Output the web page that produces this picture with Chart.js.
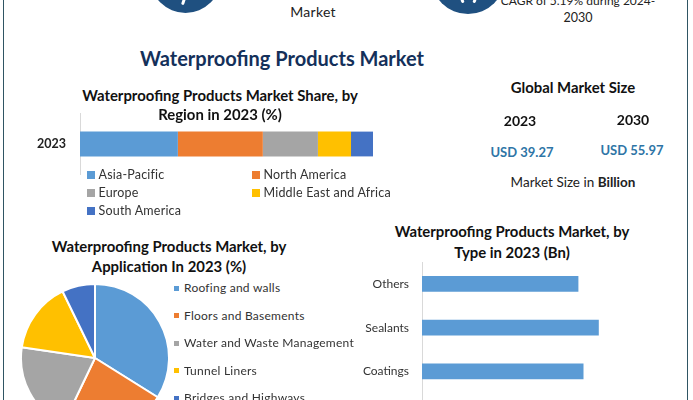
<!DOCTYPE html>
<html>
<head>
<meta charset="utf-8">
<script src="https://cdn.jsdelivr.net/npm/chart.js@4"></script>
<style>
  html, body { margin: 0; padding: 0; background: #fff; }
  body { position: relative; width: 693px; height: 400px; overflow: hidden; font-family: Lato, sans-serif; color: #222; }
  canvas { position: absolute; }
  .t { position: absolute; white-space: nowrap; transform: translate(-50%, -50%); line-height: 1; }
  .l { position: absolute; white-space: nowrap; transform: translateY(-50%); line-height: 1; font-size: 12.5px; letter-spacing: .2px; color: #333; }
  .sw { position: absolute; }
  .frame { position: absolute; left: 3px; top: -2px; width: 683px; height: 410px; border-left: 1.5px solid #2f5563; border-right: 1.5px solid #2f5563; }
  .circle { position: absolute; border-radius: 50%; background: #1f5080; }
  .glint { position: absolute; background: #fff; border-radius: 2px; }
</style>
</head>
<body>
<div class="frame"></div>
<div class="circle" style="left:150px;top:-58px;width:71px;height:71px"></div>
<div class="glint" style="left:182px;top:-2px;width:3px;height:7px;transform:rotate(18deg)"></div>
<div class="circle" style="left:431px;top:-60px;width:74px;height:74px"></div>
<div class="glint" style="left:461px;top:-1px;width:3px;height:4px;transform:rotate(-25deg)"></div>
<div class="glint" style="left:473px;top:-1px;width:3px;height:4px;transform:rotate(25deg)"></div>
<canvas id="region" width="373" height="62" style="left:0;top:113px"></canvas>
<canvas id="application" width="150" height="150" style="left:20px;top:283px"></canvas>
<canvas id="type" width="276" height="175" style="left:350px;top:262px"></canvas>
<script>
const regionNames = ["Asia-Pacific", "North America", "Europe", "Middle East and Africa", "South America"];
const regionShare = [33.4, 29, 18.8, 11.3, 7.5];
const regionYear = ["2023"];

const applicationNames = ["Roofing and walls", "Floors and Basements", "Water and Waste Management", "Tunnel Liners", "Bridges and Highways"];
const applicationShare = [33.9, 23.2, 20.2, 15.5, 7.2];

// the axis runs on past the bottom of the picture, so there is one empty slot
const typeNames = ["Others", "Sealants", "Coatings", ""];
const typeValues = [9.2, 10.4, 9.5, null];

const colors = ["#5b9bd5", "#ed7d31", "#a5a5a5", "#ffc000", "#4472c4"];

function put(cls, x, y, str, style) {
  const d = document.createElement("div");
  d.className = cls;
  d.style.left = x + "px";
  d.style.top = y + "px";
  d.style.cssText += style || "";
  d.innerHTML = str;
  document.body.appendChild(d);
}

const head = "font-size:14.9px;font-weight:700;color:#111;";
put("t", 313, 12, "Market", "font-size:14px;letter-spacing:.3px");
put("t", 578, 1, "CAGR of 5.19% during 2024-", "font-size:12px");
put("t", 578, 18, "2030", "font-size:12.5px");
put("t", 282, 58, "Waterproofing Products Market", "font-size:20px;font-weight:700;color:#14305a");
put("t", 220, 95, "Waterproofing Products Market Share, by", head);
put("t", 220, 114, "Region in 2023 (%)", head);
put("t", 169, 246, "Waterproofing Products Market, by", head);
put("t", 169, 266, "Application In 2023 (%)", head);
put("t", 512, 231, "Waterproofing Products Market, by", head);
put("t", 512, 252, "Type in 2023 (Bn)", head);
put("t", 573, 87, "Global Market Size", head);
put("t", 520, 121, "2023", head + "font-size:14px");
put("t", 633, 120, "2030", head + "font-size:14px");
put("t", 522, 152, "USD 39.27", "font-size:13px;font-weight:700;color:#2e75a6");
put("t", 632, 150, "USD 55.97", "font-size:13px;font-weight:700;color:#2e75a6");
put("t", 573, 183, "Market Size in <b>Billion</b>", "font-size:13.5px");

const regionSpots = [[87, 175], [252, 175], [87, 193], [252, 193], [87, 211]];
regionNames.forEach((name, i) => {
  const [x, y] = regionSpots[i];
  put("sw", x, y - 4, "", "width:8px;height:8px;background:" + colors[i]);
  put("l", x + 11.5, y, name);
});
applicationNames.forEach((name, i) => {
  const y = 288 + i * 27.5;
  put("sw", 174, y - 2.5, "", "width:5px;height:5px;background:" + colors[i]);
  put("l", 184, y, name, "font-size:12px;letter-spacing:.25px");
});

new Chart(document.getElementById("region"), {
  type: "bar",
  data: {
    labels: regionYear,
    datasets: regionNames.map((name, i) => ({
      label: name,
      data: [regionShare[i]],
      backgroundColor: colors[i],
      barPercentage: 0.4,
      categoryPercentage: 1,
    })),
  },
  options: {
    indexAxis: "y",
    responsive: false,
    animation: false,
    plugins: { legend: { display: false }, tooltip: { enabled: false } },
    scales: {
      x: { stacked: true, display: false, min: 0, max: 100 },
      y: {
        stacked: true,
        afterFit: (s) => { s.width = 80; s.paddingTop = 0; s.paddingBottom = 0; },
        grid: { drawOnChartArea: false, tickLength: 14, tickColor: "transparent" },
        border: { color: "#d9d9d9" },
        ticks: { color: "#222", font: { family: "Lato", size: 12.5, weight: "700" }, padding: 0 },
      },
    },
  },
});

new Chart(document.getElementById("application"), {
  type: "pie",
  data: {
    labels: applicationNames,
    datasets: [{ data: applicationShare, backgroundColor: colors, borderColor: "#fff", borderWidth: 2 }],
  },
  options: {
    responsive: false,
    animation: false,
    plugins: { legend: { display: false }, tooltip: { enabled: false } },
  },
});

new Chart(document.getElementById("type"), {
  type: "bar",
  data: {
    labels: typeNames,
    datasets: [{ data: typeValues, backgroundColor: colors[0], barPercentage: 0.36, categoryPercentage: 1 }],
  },
  options: {
    indexAxis: "y",
    responsive: false,
    animation: false,
    plugins: { legend: { display: false }, tooltip: { enabled: false } },
    scales: {
      x: { display: false, min: 0, max: 12 },
      y: {
        afterFit: (s) => { s.width = 72; s.paddingTop = 0; s.paddingBottom = 0; },
        grid: { drawOnChartArea: false, tickLength: 13, tickColor: "transparent" },
        border: { color: "#d9d9d9" },
        ticks: { color: "#333", font: { family: "Lato", size: 12 }, padding: 0, autoSkip: false },
      },
    },
  },
});
</script>
</body>
</html>
